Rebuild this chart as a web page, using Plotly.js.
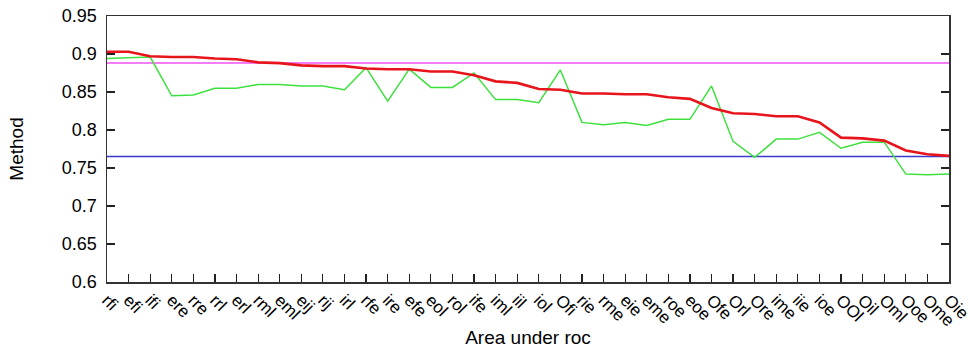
<!DOCTYPE html>
<html>
<head>
<meta charset="utf-8">
<script src="https://cdn.plot.ly/plotly-3.0.1.min.js"></script>
<style>html,body{margin:0;padding:0;background:#fff}#chart{width:968px;height:348px}</style>
</head>
<body>
<div id="chart"></div>
<script>
const categories = ["rfi","efi","ifi","ere","rre","rrl","erl","rml","eml","eij","rij","irl","rfe","ire","efe","eol","rol","ife","iml","iil","iol","Ofi","rie","rme","eie","eme","roe","eoe","Ofe","Orl","Ore","ime","iie","ioe","OOl","Oil","Oml","Ooe","Ome","Oie"];
const redValues = [0.903,0.903,0.897,0.896,0.896,0.894,0.893,0.889,0.888,0.885,0.884,0.884,0.881,0.880,0.880,0.877,0.877,0.872,0.864,0.862,0.854,0.853,0.848,0.848,0.847,0.847,0.843,0.841,0.829,0.822,0.821,0.818,0.818,0.810,0.790,0.789,0.786,0.773,0.768,0.766];
const greenValues = [0.894,0.895,0.896,0.845,0.846,0.855,0.855,0.860,0.860,0.858,0.858,0.853,0.882,0.838,0.880,0.856,0.856,0.875,0.840,0.840,0.836,0.879,0.810,0.807,0.810,0.806,0.814,0.814,0.858,0.785,0.764,0.788,0.788,0.797,0.776,0.784,0.784,0.742,0.741,0.742];
const magentaLevel = 0.888;
const blueLevel = 0.765;
const yTicks = [0.6,0.65,0.7,0.75,0.8,0.85,0.9,0.95];
const yTickText = ["0.6","0.65","0.7","0.75","0.8","0.85","0.9","0.95"];

const idx = categories.map((c, i) => i);
const font = "Liberation Sans, Arial, Helvetica, sans-serif";
const traces = [
  {x: idx, y: idx.map(() => magentaLevel), mode: "lines", line: {color: "#f050f0", width: 1.5}, hoverinfo: "skip"},
  {x: idx, y: idx.map(() => blueLevel), mode: "lines", line: {color: "#3a3ad0", width: 1.5}, hoverinfo: "skip"},
  {x: idx, y: greenValues, mode: "lines", line: {color: "#3ee03e", width: 1.5}},
  {x: idx, y: redValues, mode: "lines", line: {color: "#e8141b", width: 2.6}}
];
const layout = {
  width: 968, height: 348,
  margin: {l: 107, r: 19, t: 16, b: 66},
  paper_bgcolor: "#fff", plot_bgcolor: "#fff",
  showlegend: false,
  font: {family: font, size: 18, color: "#000"},
  xaxis: {
    range: [0, categories.length - 1],
    tickmode: "array", tickvals: idx, ticktext: categories,
    tickangle: 45, ticks: "inside", ticklen: 8, tickwidth: 1.2, tickcolor: "#222",
    ticklabeloverflow: "allow",
    showline: true, linecolor: "#333", linewidth: 1.5, mirror: true,
    showgrid: false, zeroline: false,
    tickfont: {family: font, size: 17},
    title: {text: "Area under roc", font: {family: font, size: 19}, standoff: 3}
  },
  yaxis: {
    range: [0.6, 0.95],
    tickmode: "array", tickvals: yTicks, ticktext: yTickText,
    ticks: "inside", ticklen: 8, tickwidth: 1.2, tickcolor: "#222",
    ticklabelstandoff: 5,
    showline: true, linecolor: "#333", linewidth: 1.5, mirror: "ticks",
    showgrid: false, zeroline: false,
    tickfont: {family: font, size: 18},
    title: {text: "Method", font: {family: font, size: 19}, standoff: 33}
  }
};
Plotly.newPlot("chart", traces, layout, {displayModeBar: false, staticPlot: true});
</script>
</body>
</html>
